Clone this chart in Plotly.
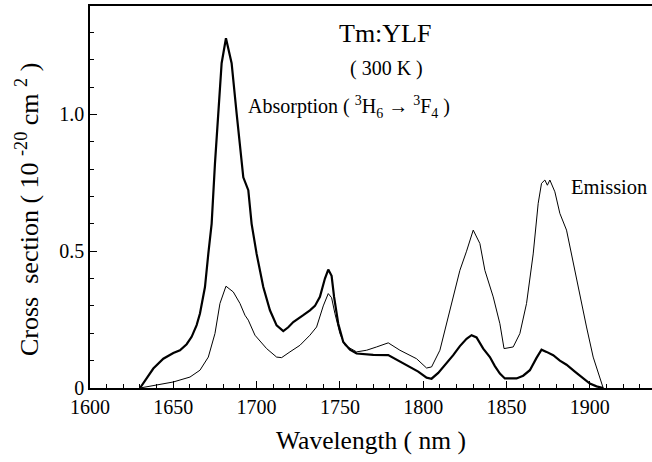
import plotly.graph_objects as go

# Absorption cross section (3H6 -> 3F4), 10^-20 cm^2
abs_wl = [1630, 1634, 1638, 1644, 1650, 1654, 1658, 1661, 1664, 1666, 1669, 1671, 1673, 1675,
          1677, 1679, 1681.6, 1685, 1688, 1691, 1692, 1695, 1697, 1700, 1704, 1708, 1712, 1716,
          1719, 1722, 1725, 1728, 1732, 1735, 1738, 1741, 1743, 1745, 1746.5, 1749, 1752, 1756,
          1760, 1770, 1779, 1785, 1790, 1797, 1802, 1805, 1809, 1814, 1818, 1822, 1826, 1829,
          1832, 1836, 1840, 1843, 1846, 1849, 1856, 1860, 1864, 1868, 1871, 1874, 1878, 1882,
          1886, 1891, 1896, 1900, 1904, 1908]
abs_val = [0.0, 0.035, 0.071, 0.107, 0.128, 0.138, 0.16, 0.187, 0.23, 0.272, 0.369, 0.49, 0.60, 0.82,
           1.004, 1.187, 1.278, 1.187, 1.004, 0.82, 0.77, 0.723, 0.60, 0.49, 0.369, 0.284, 0.229, 0.208,
           0.222, 0.241, 0.255, 0.266, 0.284, 0.30, 0.333, 0.40, 0.433, 0.41, 0.333, 0.235, 0.168, 0.14,
           0.126, 0.121, 0.12, 0.10, 0.083, 0.06, 0.038, 0.034, 0.055, 0.089, 0.12, 0.153, 0.18, 0.193,
           0.185, 0.144, 0.113, 0.08, 0.053, 0.035, 0.035, 0.045, 0.065, 0.11, 0.14, 0.132, 0.12, 0.10,
           0.085, 0.06, 0.034, 0.016, 0.006, 0.0]

# Emission cross section
emi_wl = [1630, 1640, 1650, 1660, 1666, 1671, 1675, 1678, 1681.6, 1686, 1690, 1693, 1695, 1699,
          1706, 1712, 1715, 1720, 1726, 1732, 1736, 1740, 1743, 1745, 1747, 1750, 1753, 1760,
          1766, 1772, 1779, 1786, 1796, 1802, 1805, 1810, 1816, 1822, 1826, 1830, 1834, 1837,
          1842, 1846, 1848.5, 1854, 1858, 1862, 1866, 1869, 1871, 1873, 1874.5, 1876, 1879, 1882,
          1886, 1890, 1894, 1898, 1902, 1905, 1908]
emi_val = [0.0, 0.012, 0.022, 0.04, 0.065, 0.113, 0.199, 0.309, 0.372, 0.351, 0.309, 0.266, 0.248, 0.193,
           0.144, 0.113, 0.111, 0.132, 0.156, 0.193, 0.223, 0.30, 0.345, 0.33, 0.272, 0.199, 0.156, 0.132,
           0.138, 0.15, 0.165, 0.138, 0.107, 0.073, 0.077, 0.138, 0.284, 0.43, 0.50, 0.577, 0.528, 0.43,
           0.333, 0.235, 0.144, 0.15, 0.199, 0.309, 0.49, 0.675, 0.748, 0.76, 0.741, 0.76, 0.717, 0.638,
           0.577, 0.455, 0.333, 0.223, 0.113, 0.053, 0.0]

x_ticks = [1600, 1650, 1700, 1750, 1800, 1850, 1900]
y_ticks = [0, 0.5, 1.0]
y_ticktext = ["0", "0.5", "1.0"]

FONT = "Liberation Serif"

fig = go.Figure()
fig.add_trace(go.Scatter(x=emi_wl, y=emi_val, mode="lines",
                         line=dict(color="black", width=1), name="Emission"))
fig.add_trace(go.Scatter(x=abs_wl, y=abs_val, mode="lines",
                         line=dict(color="black", width=2.2), name="Absorption"))

fig.add_annotation(x=1777, y=1.297, text="Tm:YLF", showarrow=False,
                   font=dict(size=26, family=FONT, color="black"))
fig.add_annotation(x=1778, y=1.169, text="( 300 K )", showarrow=False,
                   font=dict(size=20, family=FONT, color="black"))
fig.add_annotation(x=1693.6, y=1.026, xanchor="left",
                   text="Absorption ( <sup>3</sup>H<sub>6</sub> \u2192 <sup>3</sup>F<sub>4</sub> )",
                   showarrow=False, font=dict(size=20, family=FONT, color="black"))
fig.add_annotation(x=1887.5, y=0.734, xanchor="left", text="Emission", showarrow=False,
                   font=dict(size=20.5, family=FONT, color="black"))
# y-axis title placed as rotated text
fig.add_annotation(xref="paper", yref="paper", x=-0.1103, y=0.466,
                   xanchor="center", yanchor="middle", textangle=-90, showarrow=False,
                   text="Cross  section ( 10 <sup>-20</sup> cm <sup>2</sup> )",
                   font=dict(size=26, family=FONT, color="black"))

fig.update_layout(
    width=652, height=462,
    margin=dict(l=90, r=0, t=6, b=74),
    paper_bgcolor="white", plot_bgcolor="white",
    showlegend=False,
    font=dict(family=FONT, color="black", size=20),
)
fig.update_xaxes(
    range=[1600, 1937.3], tickvals=x_ticks, ticks="inside", ticklen=7, tickwidth=1.2,
    tickcolor="black", showline=True, linecolor="black", linewidth=1.5, mirror=True,
    showgrid=False, zeroline=False,
    minor=dict(dtick=10, tick0=1600, ticks="inside", ticklen=4, tickcolor="black", showgrid=False),
    tickfont=dict(size=20, family=FONT),
    title=dict(text="Wavelength ( nm )", font=dict(size=25.5, family=FONT), standoff=14),
)
fig.update_yaxes(
    range=[0, 1.396], tickvals=y_ticks, ticktext=y_ticktext, ticks="inside", ticklen=7,
    tickwidth=1.2, tickcolor="black", showline=True, linecolor="black", linewidth=1.5,
    showgrid=False, zeroline=False,
    minor=dict(dtick=0.1, tick0=0, ticks="inside", ticklen=4, tickcolor="black", showgrid=False),
    tickfont=dict(size=20, family=FONT),
)

fig.write_html("out.html")
